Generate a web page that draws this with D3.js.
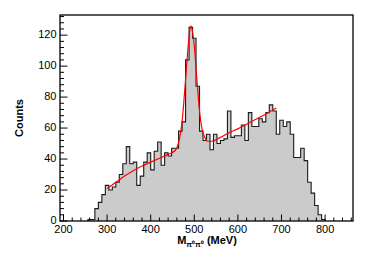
<!DOCTYPE html>
<html>
<head>
<meta charset="utf-8">
<script src="https://cdn.jsdelivr.net/npm/d3@7"></script>
<style>
  html, body { margin: 0; padding: 0; background: #fff; }
  svg { display: block; font-family: "Liberation Sans", Arial, sans-serif; }
</style>
</head>
<body>
<div id="chart"></div>
<script>
// histogram: 8 MeV bins, lower edges from 256 MeV
const binEdges = d3.range(256, 800, 8);
const counts = [1, 1, 8, 12, 17, 23, 20, 22, 25, 30, 37, 48, 37, 38, 23, 29,
  38, 44, 33, 45, 51, 36, 44, 42, 47, 47, 58, 64, 104, 125, 118, 87,
  58, 52, 56, 46, 56, 50, 52, 53, 71, 54, 55, 55, 62, 52, 70, 61,
  61, 66, 64, 70, 75, 71, 56, 65, 61, 64, 56, 41, 41, 47, 39, 25,
  18, 10, 4, 1];

// fit curve
const fitMass = [300, 320, 340, 360, 380, 400, 420, 440, 456, 466, 472, 478, 484, 488, 492,
  496, 500, 506, 512, 518, 524, 530, 540, 560, 580, 600, 620, 640, 660, 688];
const fitCounts = [21, 25, 29, 32.5, 35.5, 38, 40.5, 43, 45.5, 53, 64, 84, 106, 119, 126,
  122, 113, 91, 71, 59, 54, 51.5, 51.5, 54, 57, 59.5, 62.5, 65.5, 68.5, 73];

const xTicks = [200, 300, 400, 500, 600, 700, 800];
const yTicks = [0, 20, 40, 60, 80, 100, 120];

const W = 366, H = 266;
const svg = d3.select("#chart").append("svg")
  .attr("width", W).attr("height", H);

const x = d3.scaleLinear().domain([192, 864]).range([60, 353]);
const y = d3.scaleLinear().domain([0, 133]).range([221, 15]);

// histogram fill + outline
const pts = [[binEdges[0], 0]].concat(binEdges.map((e, i) => [e, counts[i]]));
pts.push([binEdges[binEdges.length - 1] + 8, 0]);

svg.append("path")
  .datum(pts)
  .attr("d", d3.area().curve(d3.curveStepAfter)
    .x(d => x(d[0])).y0(y(0)).y1(d => y(d[1])))
  .attr("fill", "#cbcbcb");

svg.append("path")
  .datum(pts)
  .attr("d", d3.line().curve(d3.curveStepAfter)
    .x(d => x(d[0])).y(d => y(d[1])))
  .attr("fill", "none")
  .attr("stroke", "#1a1a1a")
  .attr("stroke-width", 1.1);

// fit
svg.append("path")
  .datum(fitMass.map((m, i) => [m, fitCounts[i]]))
  .attr("d", d3.line().curve(d3.curveMonotoneX)
    .x(d => x(d[0])).y(d => y(d[1])))
  .attr("fill", "none")
  .attr("stroke", "#ff0000")
  .attr("stroke-width", 1.2);

// frame
svg.append("rect")
  .attr("x", 60).attr("y", 15)
  .attr("width", 293).attr("height", 206)
  .attr("fill", "none")
  .attr("stroke", "#000")
  .attr("stroke-width", 1.3);

// x ticks (inside, pointing up)
const gx = svg.append("g");
gx.selectAll("line.minor")
  .data(d3.range(200, 861, 20).filter(v => v % 100 !== 0))
  .enter().append("line")
  .attr("x1", d => x(d)).attr("x2", d => x(d))
  .attr("y1", y(0)).attr("y2", y(0) - 3.5)
  .attr("stroke", "#000");
gx.selectAll("line.major")
  .data(xTicks)
  .enter().append("line")
  .attr("x1", d => x(d)).attr("x2", d => x(d))
  .attr("y1", y(0)).attr("y2", y(0) - 6.5)
  .attr("stroke", "#000");
gx.selectAll("text")
  .data(xTicks)
  .enter().append("text")
  .attr("x", d => x(d)).attr("y", 233)
  .attr("text-anchor", "middle")
  .style("font-size", "11px")
  .text(d => d);

// y ticks (inside, pointing right)
const gy = svg.append("g");
gy.selectAll("line.minor")
  .data(d3.range(0, 133, 4).filter(v => v % 20 !== 0))
  .enter().append("line")
  .attr("x1", 60).attr("x2", 64)
  .attr("y1", d => y(d)).attr("y2", d => y(d))
  .attr("stroke", "#000");
gy.selectAll("line.major")
  .data(yTicks)
  .enter().append("line")
  .attr("x1", 60).attr("x2", 67.5)
  .attr("y1", d => y(d)).attr("y2", d => y(d))
  .attr("stroke", "#000");
gy.selectAll("text")
  .data(yTicks)
  .enter().append("text")
  .attr("x", 56.5).attr("y", d => y(d) + 3)
  .attr("text-anchor", "end")
  .style("font-size", "11px")
  .text(d => d);

// axis titles
const xt = svg.append("text")
  .attr("x", 207).attr("y", 243.5)
  .attr("text-anchor", "middle")
  .style("font-size", "11px")
  .style("font-weight", "bold");
xt.append("tspan").text("M");
xt.append("tspan").attr("dy", 3).style("font-size", "7.5px").text("π\u2070π\u2070");
xt.append("tspan").attr("dy", -3).text(" (MeV)");

svg.append("text")
  .attr("transform", "translate(23,118) rotate(-90)")
  .attr("text-anchor", "middle")
  .style("font-size", "11px")
  .style("font-weight", "bold")
  .text("Counts");
</script>
</body>
</html>
